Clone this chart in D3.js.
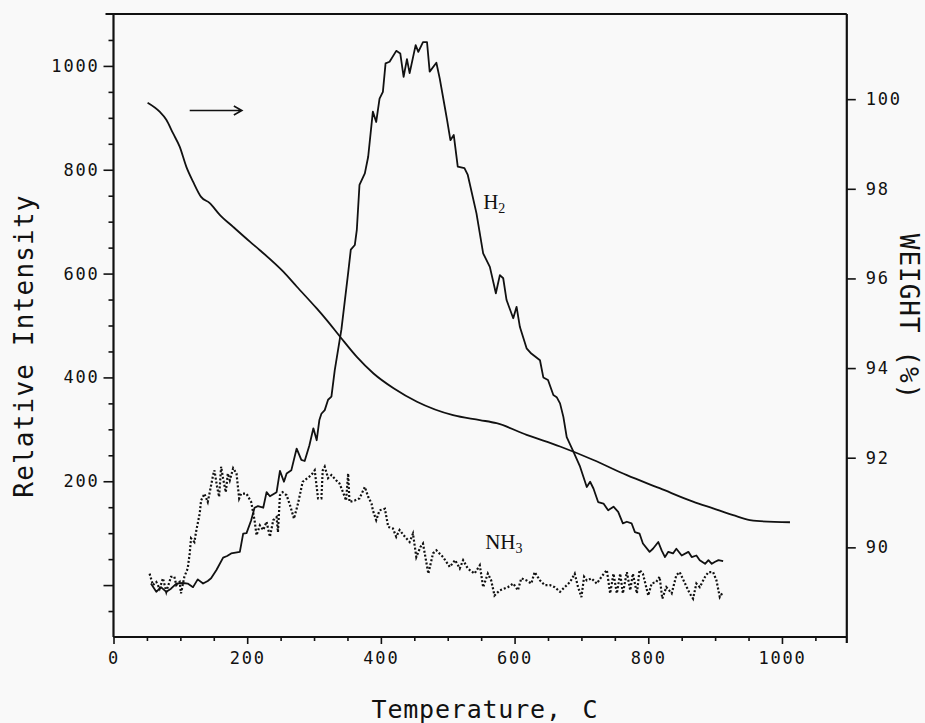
<!DOCTYPE html>
<html>
<head>
<meta charset="utf-8">
<script src="https://cdn.jsdelivr.net/npm/d3@7"></script>
<style>
  html, body { margin: 0; padding: 0; background: #f9f9f9; }
  svg { display: block; }
  .axis text { font-family: "DejaVu Sans Mono", monospace; font-size: 17px; fill: #111; letter-spacing: 1.8px; }
  .axis line { stroke: #111; stroke-width: 1.6px; }
  .title { font-family: "DejaVu Sans Mono", monospace; fill: #111; }
  .species { font-family: "Liberation Serif", "Times New Roman", serif; font-size: 21px; fill: #111; }
</style>
</head>
<body>
<script>
// temperature (C), relative intensity
const h2Signal = [
    [56, 3], [64, -13], [71, -4], [79, -13], [86, -7], [94, 3], [104, 4], [111, 3], [119, -4],
    [126, 11], [134, 3], [141, 8], [146, 13], [154, 29], [164, 53], [170, 56], [176, 61],
    [189, 64], [194, 99], [199, 100], [206, 125], [211, 149], [216, 152], [224, 149],
    [229, 179], [234, 171], [244, 179], [249, 220], [255, 199], [259, 215], [266, 221],
    [274, 263], [281, 241], [286, 239], [293, 269], [299, 302], [304, 279], [308, 318],
    [311, 330], [316, 337], [321, 357], [326, 363], [331, 414], [341, 493], [351, 601],
    [355, 646], [361, 655], [364, 684], [368, 771], [376, 793], [381, 825], [388, 912],
    [393, 892], [398, 937], [403, 950], [407, 1005], [413, 1008], [423, 1029], [429, 1024],
    [434, 979], [439, 1013], [443, 986], [452, 1040], [456, 1027], [463, 1046], [469, 1046],
    [473, 989], [483, 1006], [488, 976], [496, 918], [499, 896], [504, 857], [509, 867],
    [515, 806], [525, 803], [530, 790], [543, 716], [553, 639], [563, 613], [572, 562],
    [578, 597], [583, 591], [588, 549], [598, 514], [603, 536], [608, 497], [618, 456],
    [625, 446], [638, 433], [643, 400], [650, 395], [658, 366], [663, 362], [668, 350],
    [673, 324], [678, 285], [688, 257], [698, 228], [708, 189], [713, 199], [718, 186],
    [725, 160], [733, 157], [740, 144], [748, 151], [755, 141], [762, 119], [768, 122],
    [775, 119], [780, 102], [787, 99], [792, 80], [802, 64], [807, 70], [815, 83], [820, 67],
    [825, 54], [830, 64], [837, 61], [842, 70], [850, 57], [860, 64], [865, 54], [872, 57],
    [877, 48], [885, 41], [890, 48], [895, 41], [900, 45], [905, 48], [912, 46]
];

const nh3Signal = [
    [54, 22], [59, 0], [64, 6], [69, -7], [74, 13], [79, -13], [86, 16], [91, 16], [94, 0],
    [99, 6], [101, -16], [106, 16], [111, 32], [114, 61], [116, 90], [121, 83], [124, 106],
    [129, 138], [131, 163], [136, 176], [141, 160], [144, 179], [149, 212], [151, 221],
    [155, 189], [158, 170], [161, 228], [164, 205], [168, 179], [171, 215], [174, 202],
    [179, 225], [184, 215], [188, 167], [191, 176], [199, 176], [206, 160], [211, 125],
    [214, 96], [219, 115], [224, 106], [229, 122], [234, 93], [239, 125], [244, 131],
    [246, 102], [249, 173], [253, 179], [259, 173], [264, 154], [270, 128], [276, 157],
    [283, 199], [289, 205], [296, 212], [301, 221], [306, 167], [311, 167], [313, 221],
    [316, 228], [321, 206], [326, 212], [333, 202], [338, 196], [343, 180], [348, 163],
    [351, 215], [353, 160], [361, 163], [368, 167], [376, 189], [381, 170], [386, 157],
    [388, 144], [393, 125], [398, 144], [406, 147], [411, 112], [418, 109], [423, 93],
    [428, 106], [436, 93], [443, 83], [448, 99], [453, 54], [459, 73], [463, 80], [471, 22],
    [478, 61], [483, 67], [493, 54], [503, 35], [511, 48], [518, 32], [523, 48], [530, 32],
    [540, 22], [548, 38], [553, -4], [560, 22], [565, 9], [570, -20], [578, -10], [590, -4],
    [598, 3], [605, -10], [610, 13], [618, 9], [625, 3], [630, 25], [638, 9], [645, 0],
    [653, 0], [660, -4], [668, -13], [675, -4], [683, 6], [690, 22], [695, -4], [700, -23],
    [704, 16], [708, 9], [715, 13], [723, 3], [730, 16], [738, 29], [743, -16], [748, 22],
    [753, -16], [758, 22], [762, -16], [768, 25], [773, -10], [777, 22], [783, -16],
    [787, 29], [792, 22], [800, -20], [805, 3], [812, 6], [817, 16], [821, -26], [827, -4],
    [835, -16], [842, 19], [847, 25], [855, 3], [862, -16], [867, -26], [872, 3], [877, -4],
    [885, 16], [890, 25], [897, 25], [902, 9], [907, -23], [912, -13]
];

// temperature (C), weight (%)
const weightLoss = [
    [51, 99.92], [69, 99.72], [79, 99.54], [89, 99.24], [99, 98.94], [109, 98.49],
    [119, 98.16], [131, 97.82], [144, 97.68], [159, 97.42], [179, 97.15], [204, 96.82],
    [219, 96.63], [254, 96.15], [274, 95.82], [304, 95.33], [319, 95.07], [339, 94.70],
    [364, 94.25], [389, 93.88], [419, 93.55], [454, 93.25], [508, 92.95], [548, 92.84],
    [573, 92.77], [618, 92.51], [668, 92.25], [718, 91.95], [768, 91.61], [817, 91.32],
    [867, 91.02], [897, 90.87], [927, 90.72], [952, 90.61], [962, 90.59], [1012, 90.56]
];

const tempLabels = [0, 200, 400, 600, 800, 1000];
const intensityLabels = [200, 400, 600, 800, 1000];
const weightLabels = [90, 92, 94, 96, 98, 100];

let svg = d3.select('body').append('svg')
    .attr('width', 925)
    .attr('height', 723);

let x = d3.scaleLinear().domain([0, 1097]).range([113.5, 846.8]);
let yLeft = d3.scaleLinear().domain([-100, 1100]).range([637, 14]);
let yRight = d3.scaleLinear().domain([88, 101.9]).range([637, 14]);

let ink = '#111';
let x0 = x.range()[0], x1 = x.range()[1];
let yTop = yLeft.range()[1], yBottom = yLeft.range()[0];

// bottom axis, ticks every 50
let xAxisG = svg.append('g')
    .attr('class', 'axis')
    .attr('transform', `translate(0 ${yBottom})`)
    .call(d3.axisBottom(x)
        .tickValues(d3.range(0, 1051, 50))
        .tickFormat(d => tempLabels.includes(d) ? d : '')
        .tickSize(7)
        .tickPadding(8));
xAxisG.select('.domain').remove();
xAxisG.selectAll('.tick line').attr('y2', d => d % 200 === 0 ? 7 : 4);

// left axis
let yAxisG = svg.append('g')
    .attr('class', 'axis')
    .attr('transform', `translate(${x0} 0)`)
    .call(d3.axisLeft(yLeft)
        .tickValues(d3.range(-50, 1051, 50))
        .tickFormat(d => intensityLabels.includes(d) ? d : '')
        .tickSize(10)
        .tickPadding(4));
yAxisG.select('.domain').remove();
yAxisG.selectAll('.tick line').attr('x2', d => d % 200 === 0 ? -10 : -5);

// right axis
let wAxisG = svg.append('g')
    .attr('class', 'axis')
    .attr('transform', `translate(${x1} 0)`)
    .call(d3.axisRight(yRight)
        .tickValues(weightLabels)
        .tickSize(9)
        .tickPadding(10));
wAxisG.select('.domain').remove();

// frame
let frame = svg.append('g')
    .attr('stroke', ink)
    .attr('stroke-width', 2.2)
    .attr('fill', 'none');
frame.append('line').attr('x1', x0).attr('y1', yTop).attr('x2', x0).attr('y2', yBottom);
frame.append('line').attr('x1', x0).attr('y1', yBottom).attr('x2', x1).attr('y2', yBottom);
frame.append('line').attr('x1', x1).attr('y1', yTop).attr('x2', x1).attr('y2', yBottom + 6);
frame.append('line').attr('x1', x0 - 8).attr('y1', yTop).attr('x2', x1).attr('y2', yTop);

// curves
let intensityLine = d3.line()
    .x(d => x(d[0]))
    .y(d => yLeft(d[1]));

let weightLine = d3.line()
    .x(d => x(d[0]))
    .y(d => yRight(d[1]))
    .curve(d3.curveMonotoneX);

svg.append('path')
    .datum(weightLoss)
    .attr('d', weightLine)
    .attr('fill', 'none')
    .attr('stroke', ink)
    .attr('stroke-width', 1.8);

svg.append('path')
    .datum(h2Signal)
    .attr('d', intensityLine)
    .attr('fill', 'none')
    .attr('stroke', ink)
    .attr('stroke-width', 1.8)
    .attr('stroke-linejoin', 'round');

svg.append('path')
    .datum(nh3Signal)
    .attr('d', intensityLine)
    .attr('fill', 'none')
    .attr('stroke', ink)
    .attr('stroke-width', 2.2)
    .attr('stroke-dasharray', '2,2');

// arrow showing the weight curve reads on the right axis
let arrowY = yLeft(914);
let arrowX1 = x(114), arrowX2 = x(192);
svg.append('path')
    .attr('d', `M${arrowX1},${arrowY}H${arrowX2}M${arrowX2 - 8},${arrowY - 4.5}L${arrowX2},${arrowY}L${arrowX2 - 8},${arrowY + 4.5}`)
    .attr('fill', 'none')
    .attr('stroke', ink)
    .attr('stroke-width', 1.6);

// species labels
let h2Label = svg.append('text')
    .attr('class', 'species')
    .attr('x', x(553))
    .attr('y', yLeft(724));
h2Label.append('tspan').text('H');
h2Label.append('tspan').attr('dy', 4).attr('font-size', 14).text('2');

let nh3Label = svg.append('text')
    .attr('class', 'species')
    .attr('x', x(556))
    .attr('y', yLeft(70));
nh3Label.append('tspan').text('NH');
nh3Label.append('tspan').attr('dy', 4).attr('font-size', 14).text('3');

// axis titles
svg.append('text')
    .attr('class', 'title')
    .attr('transform', 'translate(33 346) rotate(-90)')
    .attr('text-anchor', 'middle')
    .attr('font-size', 26)
    .attr('letter-spacing', 1.2)
    .text('Relative Intensity');

svg.append('text')
    .attr('class', 'title')
    .attr('x', 485)
    .attr('y', 718)
    .attr('text-anchor', 'middle')
    .attr('font-size', 25)
    .attr('letter-spacing', 0.8)
    .attr('word-spacing', 5)
    .text('Temperature, C');

svg.append('text')
    .attr('class', 'title')
    .attr('transform', 'translate(900 317) rotate(90)')
    .attr('text-anchor', 'middle')
    .attr('font-size', 26)
    .attr('letter-spacing', 1)
    .text('WEIGHT (%)');
</script>
</body>
</html>
